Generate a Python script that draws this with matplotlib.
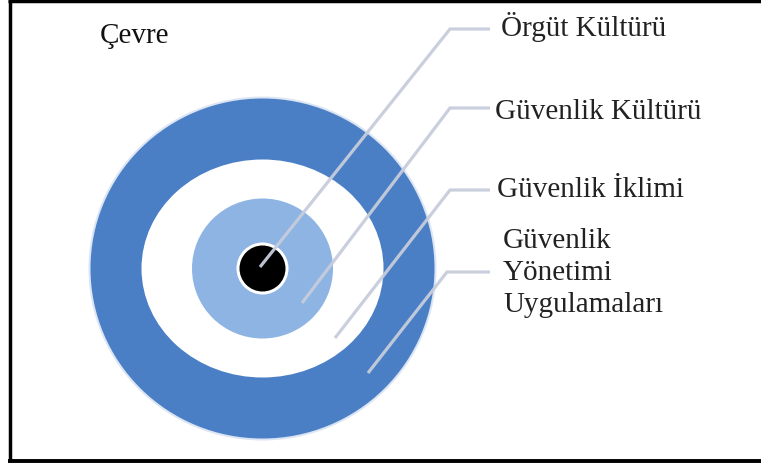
import matplotlib
matplotlib.use("Agg")
import matplotlib.pyplot as plt
from matplotlib.patches import Ellipse

# ---- diagram content ----
ring_names = ["Güvenlik Yönetimi Uygulamaları", "Güvenlik İklimi", "Güvenlik Kültürü", "Örgüt Kültürü"]
ring_colors = ["#4a7fc6", "#ffffff", "#8db4e3", "#000000"]
ring_rx = [172, 121, 70.5, 23]
ring_ry = [170, 109, 70, 23]
center = (262.5, 268.5)

labels = ["Örgüt Kültürü", "Güvenlik Kültürü", "Güvenlik İklimi", "Güvenlik\nYönetimi\nUygulamaları"]
label_x = [501, 495, 497, 503]
label_y = [36, 119, 197, 248]
line_step = 32
# leader lines: start point inside ring, elbow, end
lead_start = [(260, 267), (302, 303), (335, 338), (368, 373)]
lead_elbow = [(450, 29), (450, 108), (450, 190), (447, 272)]
lead_end_x = [490, 490, 490, 490]

env_label = "Çevre"

W, H = 761, 465
fig = plt.figure(figsize=(W / 100, H / 100), dpi=100)
ax = fig.add_axes([0, 0, 1, 1])
ax.set_xlim(0, W)
ax.set_ylim(H, 0)
ax.axis("off")

font = ["Liberation Serif", "DejaVu Serif"]
fs = 21

# rings
for i, (rx, ry, col) in enumerate(zip(ring_rx, ring_ry, ring_colors)):
    if i == 0:
        ax.add_patch(Ellipse(center, 2 * rx + 4, 2 * ry + 4, facecolor="#dbe5f3", edgecolor="none", zorder=1))
    if i == 3:
        ax.add_patch(Ellipse(center, 2 * rx + 6, 2 * ry + 6, facecolor="white", edgecolor="none", zorder=2 + i))
    ax.add_patch(Ellipse(center, 2 * rx, 2 * ry, facecolor=col, edgecolor="none", zorder=2 + i + 0.5))

# leader lines
for (sx, sy), (ex, ey), fx in zip(lead_start, lead_elbow, lead_end_x):
    ax.plot([sx, ex, fx], [sy, ey, ey], color="#c6cddb", lw=2.3, solid_capstyle="butt",
            solid_joinstyle="miter", zorder=10, alpha=0.95)

# labels (each line placed on its own baseline)
for txt, x, y in zip(labels, label_x, label_y):
    for k, part in enumerate(txt.split("\n")):
        ax.text(x, y + k * line_step, part, fontsize=fs, family=font, color="#222222",
                ha="left", va="baseline", zorder=11)

ax.text(100, 43, env_label, fontsize=fs, family=font, color="#111111", ha="left", va="baseline", zorder=11)

# frame (top, left, bottom)
ax.plot([8, W], [1.5, 1.5], color="black", lw=2.5, solid_capstyle="butt", zorder=12)
ax.plot([9.5, 9.5], [0, 462], color="black", lw=2.5, solid_capstyle="butt", zorder=12)
ax.plot([8, W], [461, 461], color="black", lw=2.8, solid_capstyle="butt", zorder=12)

fig.savefig("out.png", dpi=100, facecolor="white")
